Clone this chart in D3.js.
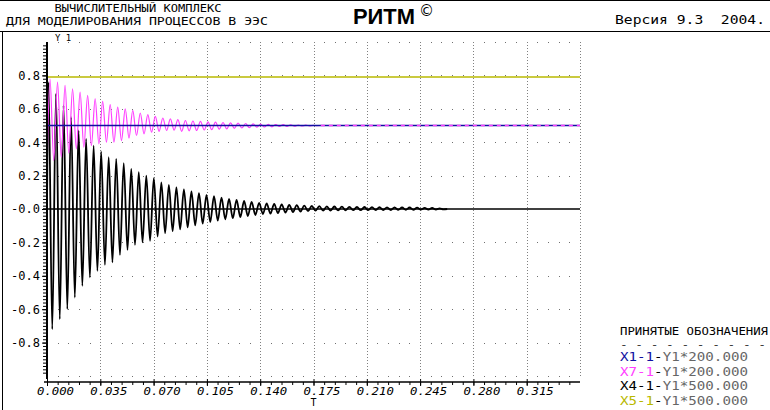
<!DOCTYPE html>
<html><head><meta charset="utf-8">
<script src="https://cdn.jsdelivr.net/npm/d3@7"></script>
<style>body{margin:0;background:#fff}svg{display:block}</style>
</head><body><svg id="c" width="770" height="410"></svg>
<script>
// ---------- data ----------
const headerLine1 = "ВЫЧИСЛИТЕЛЬНЫЙ КОМПЛЕКС";
const headerLine2 = "ДЛЯ МОДЕЛИРОВАНИЯ ПРОЦЕССОВ В ЭЭС";
const programName = "РИТМ";
const versionText = "Версия 9.3  2004.";
const yAxisTitle = "Y 1";
const xAxisTitle = "T";
const legendTitle = "ПРИНЯТЫЕ ОБОЗНАЧЕНИЯ";

const xTickValues = [0, 0.035, 0.070, 0.105, 0.140, 0.175, 0.210, 0.245, 0.280, 0.315];
const xTickLabels = ["0.000","0.035","0.070","0.105","0.140","0.175","0.210","0.245","0.280","0.315"];
const yTickValues = [0.8, 0.6, 0.4, 0.2, 0, -0.2, -0.4, -0.6, -0.8];
const yTickLabels = ["0.8","0.6","0.4","0.2","-0.0","-0.2","-0.4","-0.6","-0.8"];

const seriesKeys   = ["X1-1", "X7-1", "X4-1", "X5-1"];
const seriesScales = ["Y1*200.000", "Y1*200.000", "Y1*500.000", "Y1*500.000"];
const seriesColors = ["#1010a0", "#ff40ff", "#000000", "#b8b800"];

// X1-1 : constant level
const x1Times  = [0, 0.35];
const x1Values = [0.5, 0.5];
// X5-1 : constant level
const x5Times  = [0, 0.35];
const x5Values = [0.79, 0.79];

// X7-1 : damped oscillation around 0.5 (successive peaks / troughs)
const x7Start = 0.24;
const x7FirstExtremumT = 0.00197;
const x7HalfPeriod = 0.00247;
const x7Extrema = [
  0.78,0.29, 0.76,0.31, 0.74,0.335, 0.72,0.36, 0.70,0.37, 0.68,0.38, 0.66,0.39, 0.645,0.40,
  0.625,0.40, 0.61,0.41, 0.60,0.425, 0.59,0.44, 0.575,0.45, 0.565,0.46, 0.555,0.465, 0.545,0.47,
  0.54,0.472, 0.535,0.465, 0.53,0.468, 0.527,0.47, 0.525,0.473, 0.522,0.475, 0.52,0.478, 0.518,0.48,
  0.516,0.483, 0.514,0.485, 0.512,0.487, 0.51,0.49, 0.508,0.491, 0.507,0.492, 0.506,0.494, 0.505,0.495,
  0.504,0.496, 0.503,0.497, 0.502,0.498, 0.501,0.499
];
const x7Final = 0.5;

// X4-1 : damped oscillation around 0
const x4Start = 0;
const x4FirstExtremumT = 0.00098;
const x4HalfPeriod = 0.00247;
const x4Extrema = [
  0.76,-0.72, 0.69,-0.66, 0.62,-0.60, 0.55,-0.53, 0.47,-0.46, 0.42,-0.41, 0.38,-0.37, 0.345,-0.335,
  0.31,-0.32, 0.30,-0.275, 0.275,-0.245, 0.24,-0.215, 0.22,-0.20, 0.20,-0.19, 0.185,-0.165, 0.16,-0.145,
  0.145,-0.133, 0.13,-0.122, 0.118,-0.11, 0.105,-0.098, 0.095,-0.088, 0.085,-0.078, 0.077,-0.07, 0.068,-0.062,
  0.06,-0.055, 0.054,-0.048, 0.048,-0.042, 0.043,-0.036, 0.037,-0.03, 0.034,-0.027, 0.031,-0.024, 0.028,-0.021,
  0.025,-0.018, 0.023,-0.015, 0.02,-0.012, 0.018,-0.010, 0.017,-0.009, 0.016,-0.009, 0.015,-0.008, 0.014,-0.008,
  0.013,-0.007, 0.012,-0.007, 0.012,-0.007, 0.011,-0.006, 0.011,-0.006, 0.010,-0.006, 0.010,-0.005, 0.009,-0.005,
  0.009,-0.005, 0.008,-0.004, 0.007,-0.004, 0.006,-0.003, 0.004,-0.002
];
const x4Final = 0;

// ---------- drawing ----------
const svg = d3.select("#c");
const W = 770, H = 410;
const x = d3.scaleLinear().domain([0, 0.35]).range([47, 580]);
const y = d3.scaleLinear().domain([-1, 1]).range([376, 42]);
const mono = "'DejaVu Sans Mono', 'Liberation Mono', monospace";

// frame
svg.append("line").attr("x1",0).attr("x2",W).attr("y1",0.5).attr("y2",0.5).attr("stroke","#000");
svg.append("line").attr("x1",0).attr("x2",W).attr("y1",31.5).attr("y2",31.5).attr("stroke","#000");
svg.append("line").attr("x1",2.5).attr("x2",2.5).attr("y1",31).attr("y2",H).attr("stroke","#000");

// header
svg.append("text").attr("x",138).attr("y",12).attr("text-anchor","middle")
  .attr("font-family",mono).attr("font-size",10).attr("textLength",167).attr("lengthAdjust","spacingAndGlyphs")
  .text(headerLine1);
svg.append("text").attr("x",137).attr("y",25).attr("text-anchor","middle")
  .attr("font-family",mono).attr("font-size",10).attr("textLength",262).attr("lengthAdjust","spacingAndGlyphs")
  .text(headerLine2);
svg.append("text").attr("x",353).attr("y",24)
  .attr("font-family","'Liberation Sans', Arial, sans-serif").attr("font-weight","bold").attr("font-size",22)
  .attr("textLength",62).attr("lengthAdjust","spacingAndGlyphs").text(programName);
svg.append("text").attr("x",419).attr("y",16)
  .attr("font-family","'DejaVu Sans', sans-serif").attr("font-size",15).text("©");
svg.append("text").attr("x",615).attr("y",24)
  .attr("font-family",mono).attr("font-size",12).attr("textLength",150).attr("lengthAdjust","spacingAndGlyphs")
  .attr("xml:space","preserve").style("white-space","pre")
  .text(versionText);

// grid: vertical dotted lines
const g = svg.append("g");
g.selectAll("line.vg").data(d3.range(1, 11).map(i => i * 0.035)).join("line")
  .attr("x1", d => Math.round(x(d)) + 0.5).attr("x2", d => Math.round(x(d)) + 0.5)
  .attr("y1", y(1)).attr("y2", y(-1))
  .attr("stroke", "#808080").attr("stroke-dasharray", "1,2");
// grid: horizontal rows of dots
const dotRows = d3.range(-5, 6).filter(j => j !== 0).map(j => j * 0.2);
const dotCols = d3.range(1, 50).filter(k => k % 5 !== 0).map(k => k * 0.007);
dotRows.forEach(r => {
  g.selectAll(null).data(dotCols).join("rect")
    .attr("x", d => Math.round(x(d))).attr("y", Math.round(y(r)))
    .attr("width", 1).attr("height", 1).attr("fill", "#707070");
});

// series helpers
function oscPoints(start, firstT, step, ext, final) {
  const pts = [{t: 0, v: start}];
  ext.forEach((v, i) => pts.push({t: firstT + i * step, v: v}));
  pts.push({t: firstT + ext.length * step, v: final});
  return pts;
}
const lineGen = d3.line().x(d => x(d.t)).y(d => y(d.v)).curve(d3.curveMonotoneX);
const straight = d3.line().x(d => x(d.t)).y(d => y(d.v));

// X5-1 yellow
svg.append("path").datum(x5Times.map((t,i)=>({t, v:x5Values[i]})))
  .attr("d", straight).attr("fill","none").attr("stroke",seriesColors[3]).attr("stroke-width",1.5);

// zero line
svg.append("line").attr("x1",43).attr("x2",x(0.35)).attr("y1",y(0)).attr("y2",y(0))
  .attr("stroke","#000").attr("stroke-width",1.5);

// X4-1 black
const x4Pts = oscPoints(x4Start, x4FirstExtremumT, x4HalfPeriod, x4Extrema, x4Final);
svg.append("path").datum(x4Pts).attr("d", lineGen).attr("fill","none")
  .attr("stroke",seriesColors[2]).attr("stroke-width",1.8);

// X7-1 magenta
const x7Pts = oscPoints(x7Start, x7FirstExtremumT, x7HalfPeriod, x7Extrema, x7Final);
svg.append("path").datum(x7Pts).attr("d", lineGen).attr("fill","none")
  .attr("stroke",seriesColors[1]).attr("stroke-width",1.2);

// X1-1 blue (drawn over the magenta oscillation)
svg.append("path").datum(x1Times.map((t,i)=>({t, v:x1Values[i]})))
  .attr("d", straight).attr("fill","none").attr("stroke",seriesColors[0]).attr("stroke-width",1.5);

// settled magenta tail drawn dashed over the blue level
const x7TailStart = x7Pts[x7Pts.length - 1].t;
svg.append("path").datum([{t:x7TailStart, v:x7Final}, {t:0.35, v:x7Final}])
  .attr("d", straight).attr("fill","none").attr("stroke",seriesColors[1])
  .attr("stroke-width",1.5).attr("stroke-dasharray","4,4");

// Y axis
const yMinor = d3.axisLeft(y).tickValues(d3.range(-49, 50).map(i => i * 0.02)).tickSize(4).tickFormat("");
const gyMinor = svg.append("g").attr("transform","translate(47,0)").call(yMinor);
gyMinor.select(".domain").remove();
gyMinor.selectAll("line").attr("stroke","#000");
const yAxis = d3.axisLeft(y).tickValues(yTickValues).tickFormat((d,i)=>yTickLabels[i]).tickSize(5).tickPadding(2);
const gy = svg.append("g").attr("transform","translate(47,0)").call(yAxis);
gy.select(".domain").remove();
gy.selectAll("text").attr("font-family",mono).attr("font-size",12).attr("fill","#000");
svg.append("line").attr("x1",47).attr("x2",47).attr("y1",y(1)).attr("y2",y(-1)+3)
  .attr("stroke","#000").attr("stroke-width",2);
svg.append("text").attr("x",55).attr("y",41).attr("font-family",mono).attr("font-size",9).text(yAxisTitle);

// X axis
const axisY = 382;
const xMinor = d3.axisBottom(x).tickValues(d3.range(0, 50).map(k => k * 0.007)).tickSize(3).tickFormat("");
const gxMinor = svg.append("g").attr("transform",`translate(0,${axisY})`).call(xMinor);
gxMinor.select(".domain").remove();
const xAxis = d3.axisBottom(x).tickValues(xTickValues).tickFormat("").tickSize(4);
const gx = svg.append("g").attr("transform",`translate(0,${axisY})`).call(xAxis);
gx.select(".domain").remove();
gx.selectAll(".tick line").attr("y1",-3);
svg.append("line").attr("x1",44).attr("x2",x(0.35)).attr("y1",axisY).attr("y2",axisY)
  .attr("stroke","#000").attr("stroke-width",1.5);
svg.append("g").selectAll("text").data(xTickValues).join("text")
  .attr("x", d => x(d) - 10).attr("y", 395)
  .attr("font-family",mono).attr("font-size",11).attr("font-style","italic")
  .attr("textLength",37).attr("lengthAdjust","spacingAndGlyphs")
  .text((d,i) => xTickLabels[i]);
svg.append("text").attr("x", x(0.175)).attr("y",406).attr("text-anchor","middle")
  .attr("font-family",mono).attr("font-size",10).text(xAxisTitle);

// legend
const lg = svg.append("g");
lg.append("text").attr("x",620).attr("y",335).attr("font-family",mono).attr("font-size",10)
  .attr("textLength",148).attr("lengthAdjust","spacingAndGlyphs").text(legendTitle);
lg.append("text").attr("x",620).attr("y",348).attr("font-family",mono).attr("font-size",9)
  .attr("textLength",146).attr("lengthAdjust","spacingAndGlyphs").text("- - - - - - - - - -");
seriesKeys.forEach((k, i) => {
  const t = lg.append("text").attr("x",620).attr("y",361 + i*14.5)
    .attr("font-family",mono).attr("font-size",12)
    .attr("textLength",128).attr("lengthAdjust","spacingAndGlyphs");
  t.append("tspan").attr("fill", seriesColors[i]).text(k);
  t.append("tspan").attr("fill", "#000").text("-");
  t.append("tspan").attr("fill", "#666").text(seriesScales[i]);
});
</script></body></html>
